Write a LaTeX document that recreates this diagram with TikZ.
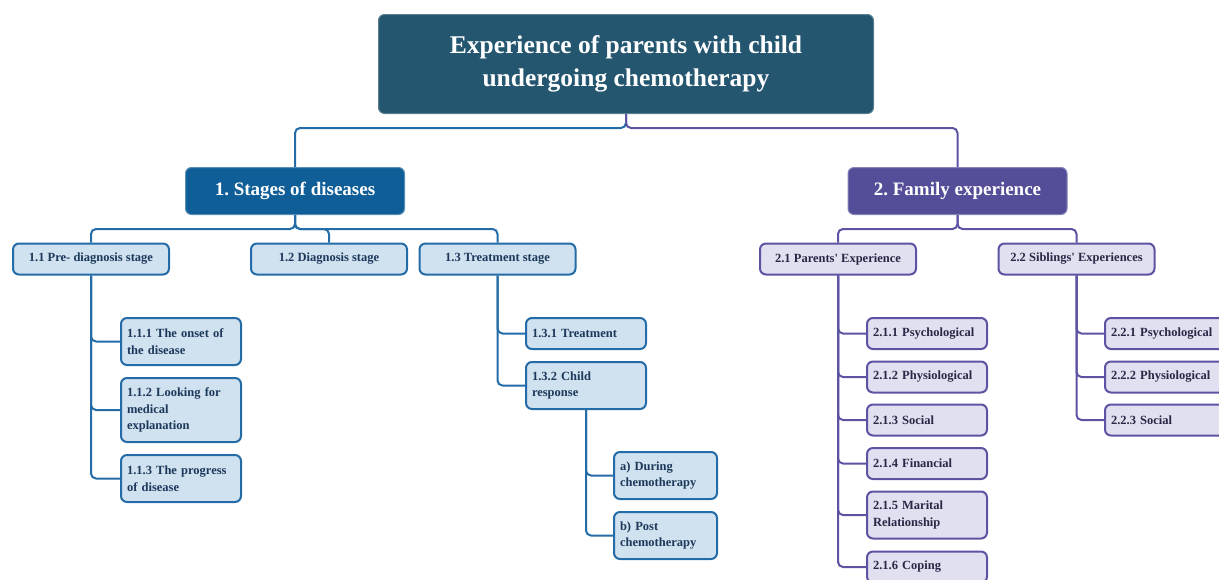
\documentclass[tikz,border=0pt]{standalone}
\usepackage{fontspec}
\setmainfont{Liberation Serif}
\usepackage{xcolor}
\usepackage{tikz}
\usetikzlibrary{positioning}
\definecolor{rootc}{RGB}{36,86,112}
\definecolor{bmain}{RGB}{16,94,152}
\definecolor{pmain}{RGB}{84,78,153}
\definecolor{bedge}{RGB}{36,108,168}
\definecolor{bfill}{RGB}{208,225,239}
\definecolor{btext}{RGB}{28,56,90}
\definecolor{pedge}{RGB}{92,83,163}
\definecolor{pfill}{RGB}{225,224,240}
\definecolor{ptext}{RGB}{40,40,70}
\frenchspacing
\begin{document}
\begin{tikzpicture}[x=1pt, y=-1pt,
  rt/.style={fill=rootc, draw=rootc!75!white, line width=1pt, rounded corners=6, minimum width=495pt, minimum height=99pt, text=white, align=center, font=\bfseries\fontsize{25.5}{33}\selectfont},
  mj/.style={rounded corners=6, minimum width=219pt, minimum height=47pt, text=white, line width=1pt, font=\bfseries\fontsize{19}{22}\selectfont},
  bm/.style={mj, fill=bmain, draw=bmain!70!white},
  pm/.style={mj, fill=pmain, draw=pmain!70!white},
  sb/.style={draw=bedge, fill=bfill, text=btext, line width=2pt, rounded corners=6, minimum width=156pt, minimum height=31pt, font=\bfseries\fontsize{12.5}{16.5}\selectfont},
  sp/.style={sb, draw=pedge, fill=pfill, text=ptext},
  lb/.style={sb, align=left, text width=108pt, inner xsep=6pt, minimum width=120pt, minimum height=31pt},
  lp/.style={lb, draw=pedge, fill=pfill, text=ptext},
  bl/.style={draw=bedge, line width=2pt, rounded corners=5},
  pl/.style={draw=pedge, line width=2pt, rounded corners=5}]
\clip (0,0) rectangle (1219,579);
\node[rt] (root) at (626,64) {Experience of parents with child\\undergoing chemotherapy};
\node[bm] (st) at (295,191) {1. Stages of diseases};
\node[pm] (fam) at (957.5,191) {2. Family experience};
\node[sb] (pre) at (91,259) {1.1 Pre- diagnosis stage};
\node[sb] (diag) at (329,259) {1.2 Diagnosis stage};
\node[sb] (treat) at (497.5,259) {1.3 Treatment stage};
\node[sp] (par) at (838,259) {2.1 Parents\textquotesingle{} Experience};
\node[sp] (sib) at (1076.5,259) {2.2 Siblings\textquotesingle{} Experiences};
\node[lb, minimum height=47pt] (onset) at (181,341.5) {1.1.1 The onset of\\the disease};
\node[lb, minimum height=64pt] (look) at (181,410) {1.1.2 Looking for\\medical\\explanation};
\node[lb, minimum height=47pt] (prog) at (181,478.5) {1.1.3 The progress\\of disease};
\node[lb] (tr) at (586,333.5) {1.3.1 Treatment};
\node[lb, minimum height=47pt] (resp) at (586,385.5) {1.3.2 Child\\response};
\node[lb, text width=91pt, minimum width=103pt, minimum height=47pt] (dur) at (665.5,475.5) {a) During\\chemotherapy};
\node[lb, text width=91pt, minimum width=103pt, minimum height=47pt] (post) at (665.5,535.5) {b) Post\\chemotherapy};
\node[lp] (ppsy) at (927,333.5) {2.1.1 Psychological};
\node[lp] (pphy) at (927,377) {2.1.2 Physiological};
\node[lp] (psoc) at (927,420) {2.1.3 Social};
\node[lp] (pfin) at (927,463.5) {2.1.4 Financial};
\node[lp, minimum height=47pt] (pmar) at (927,515) {2.1.5 Marital\\Relationship};
\node[lp] (pcop) at (927,567) {2.1.6 Coping};
\node[lp] (spsy) at (1165,333.5) {2.2.1 Psychological};
\node[lp] (sphy) at (1165,377) {2.2.2 Physiological};
\node[lp] (ssoc) at (1165,420) {2.2.3 Social};
\draw[bl] (root.south) -- ++(0,14) -| (st.north);
\draw[pl] (root.south) -- ++(0,14) -| (fam.north);
\foreach \c in {pre,diag,treat} \draw[bl] (st.south) -- ++(0,14) -| (\c.north);
\foreach \c in {par,sib} \draw[pl] (fam.south) -- ++(0,14) -| (\c.north);
\foreach \c in {onset,look,prog} \draw[bl] (pre.south) |- (\c.west);
\foreach \c in {tr,resp} \draw[bl] (treat.south) |- (\c.west);
\foreach \c in {dur,post} \draw[bl] (resp.south) |- (\c.west);
\foreach \c in {ppsy,pphy,psoc,pfin,pmar,pcop} \draw[pl] (par.south) |- (\c.west);
\foreach \c in {spsy,sphy,ssoc} \draw[pl] (sib.south) |- (\c.west);
\end{tikzpicture}
\end{document}
